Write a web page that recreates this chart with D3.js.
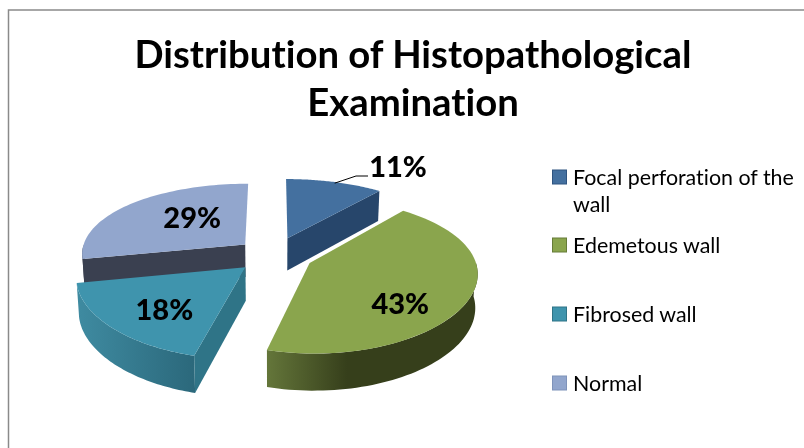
<!DOCTYPE html>
<html><head><meta charset="utf-8">
<script src="https://cdn.jsdelivr.net/npm/d3@7"></script>
<style>html,body{margin:0;background:#fff}svg{display:block;filter:blur(0.45px)}text{font-family:Lato,"Open Sans",sans-serif;fill:#000;font-variant-ligatures:none}</style>
</head><body><svg id="c" width="804" height="448"></svg>
<script>
const categories = ["Focal perforation of the wall","Edemetous wall","Fibrosed wall","Normal"];
const percents = [11,43,18,29];
const sliceShares = [10.9,43.15,17.75,28.2];
const titleLines = ["Distribution of Histopathological","Examination"];
const topColors = ["#44709f","#8aa54d","#3f94ad","#92a6cd"];
const edgeColors = ["#27466b","#4f6230","#2f7487","#3a4050"];
const swatchBorders = ["#2f5480","#667c38","#2f7487","#7f93ba"];
const wallStops = [["#27466b","#27466b"],["#64763a","#363f1b"],["#3f8ba1","#2b687b"],["#3a4050","#3a4050"]];
const explodeBy = [0.25,0.24,0.235,0.23];

const W=804,H=448,cx=274,cy=255,Rx=164.3,Ry=73.4,kx=0.116,ky=0.157,depth=33,k2=0.1;
const rad=Math.PI/180;
const svg=d3.select("#c");
const arcs=d3.pie().sort(null).startAngle(0).endAngle(2*Math.PI)(sliceShares);

function project(u,v,drop){
  let x=cx+Rx*u/(1+kx*v), y=cy-Ry*v/(1+ky*v);
  if(drop){ y+=depth/(1+k2*v); x+=(cx-x)*0.012; }
  return [x,y];
}
const offset=a=>{const m=(a.startAngle+a.endAngle)/2,e=explodeBy[a.index];return [e*Math.sin(m),e*Math.cos(m)];};
const pt=(a,ang,r,drop)=>{const o=offset(a);return project(o[0]+r*Math.sin(ang),o[1]+r*Math.cos(ang),drop);};
const line=d3.line();
const sweep=(s,e)=>d3.range(0,61).map(i=>s+(e-s)*i/60);

const defs=svg.append("defs");
wallStops.forEach((st,i)=>{
  const g=defs.append("linearGradient").attr("id","w"+i);
  g.append("stop").attr("offset",0).attr("stop-color",st[0]);
  g.append("stop").attr("offset",i===1?0.38:1).attr("stop-color",st[1]);
});

svg.append("path").attr("d",line([[8.5,H],[8.5,10],[W,10]])).attr("fill","none").attr("stroke","#8a8a8a").attr("stroke-width",1.5);

const order=[3,0,2,1];
order.forEach(i=>{
  const a=arcs[i], g=svg.append("g");
  const radial=[];
  if(i===0) radial.push(a.endAngle);
  if(i===2) radial.push(a.startAngle);
  if(i===3) radial.push(a.startAngle);
  const s=Math.max(a.startAngle,Math.PI/2), e=Math.min(a.endAngle,1.5*Math.PI);
  if(e>s){
    const angs=sweep(s,e);
    const poly=angs.map(t=>pt(a,t,1,false)).concat(angs.slice().reverse().map(t=>pt(a,t,1,true)));
    g.append("path").attr("d",line(poly)+"Z").attr("fill",`url(#w${i})`);
  }
  radial.forEach(t=>{
    const poly=[pt(a,0,0,false),pt(a,t,1,false),pt(a,t,1,true),pt(a,0,0,true)];
    g.append("path").attr("d",line(poly)+"Z").attr("fill",edgeColors[i]);
  });
  const top=[pt(a,0,0,false)].concat(sweep(a.startAngle,a.endAngle).map(t=>pt(a,t,1,false)));
  g.append("path").attr("d",line(top)+"Z").attr("fill",topColors[i]);
});

const leaderEnd=pt(arcs[0],20*rad,0.98,false);
svg.append("path").attr("d",line([[leaderEnd[0],leaderEnd[1]],[356,176],[368,176]])).attr("fill","none").attr("stroke","#000").attr("stroke-width",1);

const labelSpots=[[32.8,1.476],[134.3,0.70],[221,0.678],[318.5,0.53]];
percents.forEach((p,i)=>{
  const q=pt(arcs[i],labelSpots[i][0]*rad,labelSpots[i][1],false);
  svg.append("text").attr("x",q[0]).attr("y",q[1]).attr("dy","0.35em").attr("text-anchor","middle")
    .attr("font-size",29).attr("font-weight",900).text(p+"%");
});

titleLines.forEach((t,i)=>{
  svg.append("text").attr("x",413).attr("y",68+i*48).attr("text-anchor","middle")
    .attr("font-size",38.3).attr("font-weight",700).text(t);
});

const legendRows=[177,245,314,383];
const legendWrapped=[["Focal perforation of the","wall"],[categories[1]],[categories[2]],[categories[3]]];
legendRows.forEach((y,i)=>{
  svg.append("rect").attr("x",552.5).attr("y",y-7).attr("width",14).attr("height",14)
    .attr("fill",topColors[i]).attr("stroke",swatchBorders[i]);
  legendWrapped[i].forEach((t,j)=>{
    svg.append("text").attr("x",573).attr("y",y+8+j*27).attr("font-size",21.4).text(t);
  });
});
</script></body></html>
